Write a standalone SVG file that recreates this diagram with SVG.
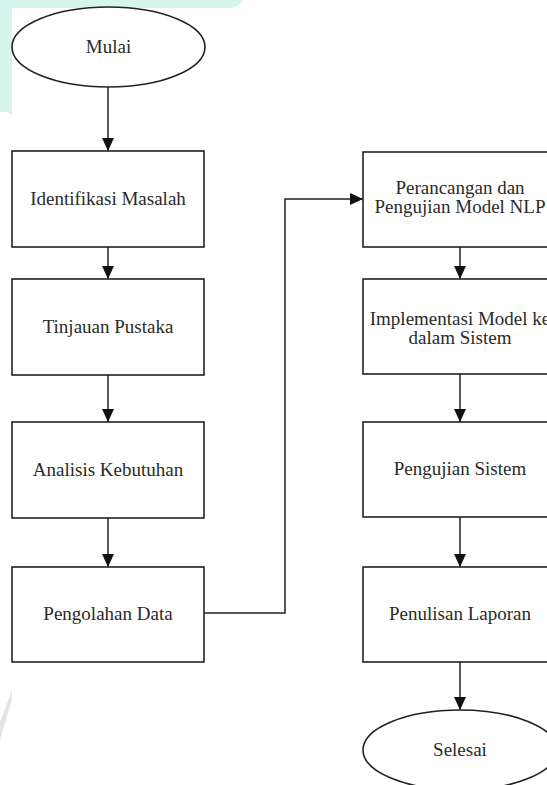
<svg xmlns="http://www.w3.org/2000/svg" width="547" height="785" viewBox="0 0 547 785">
<style>
.box{fill:#ffffff;stroke:#222222;stroke-width:1.6}
.lbl{font-family:"Liberation Serif","Times New Roman",serif;font-size:19px;fill:#2a2a2a;text-anchor:middle}
.edge{fill:none;stroke:#222222;stroke-width:1.5}
</style>
<defs>
<marker id="arr" markerUnits="userSpaceOnUse" markerWidth="14" markerHeight="14" refX="13" refY="6" orient="auto">
<path d="M0,0 L13,6 L0,12 z" fill="#111111"/>
</marker>
</defs>
<rect width="547" height="785" fill="#ffffff"/>
<g id="watermark">
<path d="M0,0 H243 Q240,6 232,8 H12 V115 Q6,110 0,112 z" fill="#d6f5ec"/>
<path d="M0,740 L12,700 L12,690 L0,722 z" fill="#e4e4e4"/>
</g>
<g id="connectors">
<path class="edge" d="M108,87 V151" marker-end="url(#arr)"/>
<path class="edge" d="M108,247 V279" marker-end="url(#arr)"/>
<path class="edge" d="M108,375 V422" marker-end="url(#arr)"/>
<path class="edge" d="M108,518 V567" marker-end="url(#arr)"/>
<path class="edge" d="M204,613 H285 V199 H363" marker-end="url(#arr)"/>
<path class="edge" d="M460,247 V279" marker-end="url(#arr)"/>
<path class="edge" d="M460,374 V422" marker-end="url(#arr)"/>
<path class="edge" d="M460,517 V567" marker-end="url(#arr)"/>
<path class="edge" d="M460,662 V710" marker-end="url(#arr)"/>
</g>
<g id="mulai">
<ellipse class="box" cx="108.5" cy="47" rx="96.5" ry="40"/>
<text class="lbl" x="108.5" y="53">Mulai</text>
</g>
<g id="identifikasi">
<rect class="box" x="12" y="151" width="192" height="96"/>
<text class="lbl" x="108" y="205">Identifikasi Masalah</text>
</g>
<g id="tinjauan">
<rect class="box" x="12" y="279" width="192" height="96"/>
<text class="lbl" x="108" y="333">Tinjauan Pustaka</text>
</g>
<g id="analisis">
<rect class="box" x="12" y="422" width="192" height="96"/>
<text class="lbl" x="108" y="476">Analisis Kebutuhan</text>
</g>
<g id="pengolahan">
<rect class="box" x="12" y="567" width="192" height="95"/>
<text class="lbl" x="108" y="620">Pengolahan Data</text>
</g>
<g id="perancangan">
<rect class="box" x="363" y="152" width="194" height="95"/>
<text class="lbl" x="460" y="194">Perancangan dan</text>
<text class="lbl" x="460" y="213">Pengujian Model NLP</text>
</g>
<g id="implementasi">
<rect class="box" x="363" y="279" width="194" height="95"/>
<text class="lbl" x="460" y="325">Implementasi Model ke</text>
<text class="lbl" x="460" y="344">dalam Sistem</text>
</g>
<g id="pengujian">
<rect class="box" x="363" y="422" width="194" height="95"/>
<text class="lbl" x="460" y="475">Pengujian Sistem</text>
</g>
<g id="penulisan">
<rect class="box" x="363" y="567" width="194" height="95"/>
<text class="lbl" x="460" y="620">Penulisan Laporan</text>
</g>
<g id="selesai">
<ellipse class="box" cx="460" cy="750" rx="97" ry="40"/>
<text class="lbl" x="460" y="756">Selesai</text>
</g>
</svg>
